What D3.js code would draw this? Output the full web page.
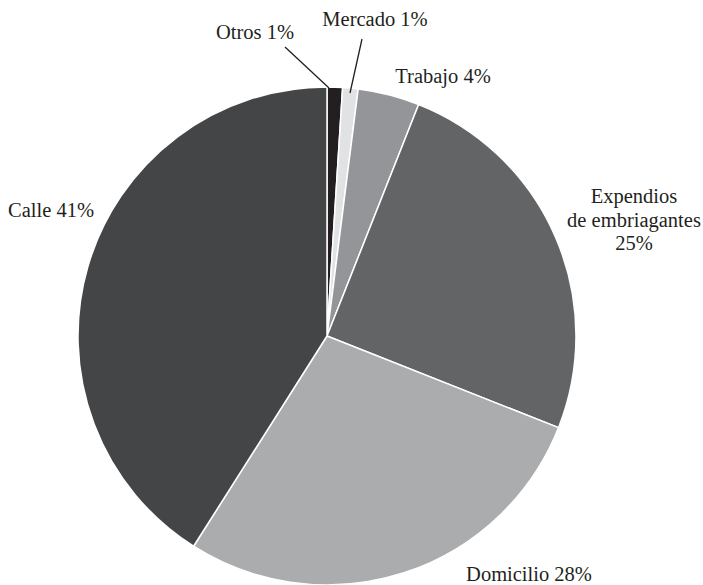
<!DOCTYPE html>
<html><head><meta charset="utf-8">
<script src="https://cdn.jsdelivr.net/npm/d3@7/dist/d3.min.js"></script>
<style>body{margin:0;background:#fff}text{font-family:"Liberation Serif","DejaVu Serif",serif;fill:#231f20}</style>
</head><body>
<svg id="c" width="703" height="585"></svg>
<script>
const categories = ["Otros", "Mercado", "Trabajo", "Expendios de embriagantes", "Domicilio", "Calle"];
const values = [1, 1, 4, 25, 28, 41];
const labelLines = [["Otros 1%"], ["Mercado 1%"], ["Trabajo 4%"], ["Expendios", "de embriagantes", "25%"], ["Domicilio 28%"], ["Calle 41%"]];

const colors = ["#231f20", "#e1e2e3", "#939598", "#636466", "#abacae", "#444547"];
const cx = 327, cy = 336, R = 249;
// label layout (anchor point, text-anchor, leader line from text to slice)
const layout = [
  {x: 255, y: 39, anchor: "middle", leader: [[285, 47], [329, 88]]},
  {x: 375, y: 26, anchor: "middle", leader: [[362, 39], [350, 93]]},
  {x: 443, y: 83, anchor: "middle"},
  {x: 634, y: 203, anchor: "middle", dy: 23.5},
  {x: 529, y: 581, anchor: "middle"},
  {x: 51, y: 217, anchor: "middle"}
];

const svg = d3.select("#c");
const g = svg.append("g").attr("transform", `translate(${cx},${cy})`);
const pie = d3.pie().sort(null).value(d => d)(values);
const arc = d3.arc().innerRadius(0).outerRadius(R);
g.selectAll("path").data(pie).join("path")
  .attr("d", arc).attr("fill", (d, i) => colors[i])
  .attr("stroke", "#fff").attr("stroke-width", 1.5).attr("stroke-linejoin", "round");

layout.forEach((L, i) => {
  const t = svg.append("text").attr("x", L.x).attr("y", L.y)
    .attr("text-anchor", L.anchor).attr("font-size", 20.5);
  labelLines[i].forEach((s, k) => {
    t.append("tspan").attr("x", L.x).attr("dy", k === 0 ? 0 : (L.dy || 22)).text(s);
  });
  if (L.leader) {
    svg.append("line").attr("x1", L.leader[0][0]).attr("y1", L.leader[0][1])
      .attr("x2", L.leader[1][0]).attr("y2", L.leader[1][1])
      .attr("stroke", "#231f20").attr("stroke-width", 1.3);
  }
});
</script>
</body></html>
